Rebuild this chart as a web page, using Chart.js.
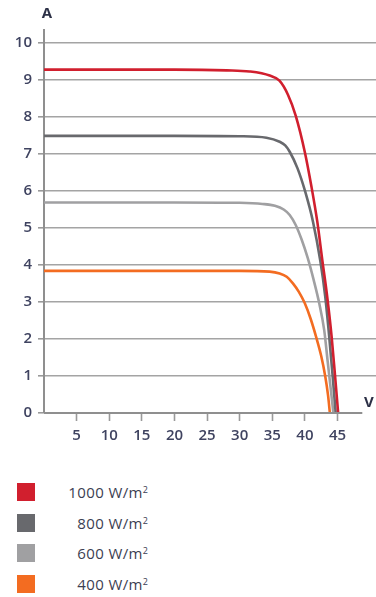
<!DOCTYPE html>
<html>
<head>
<meta charset="utf-8">
<script src="https://cdn.jsdelivr.net/npm/chart.js@4/dist/chart.umd.min.js"></script>
<style>
html,body{margin:0;padding:0;background:#fff;}
#wrap{position:absolute;left:0;top:0;width:376px;height:460px;}
.row{position:absolute;left:0;width:200px;height:20px;}
.sw{position:absolute;left:17px;top:1px;width:18px;height:18px;}
.lbl{position:absolute;right:52px;top:0;line-height:20px;font-family:"Open Sans",sans-serif;font-size:15px;letter-spacing:0.4px;color:#3b3e52;white-space:nowrap;}
.lbl sup{font-size:9px;line-height:0;vertical-align:5px;letter-spacing:0;}
</style>
</head>
<body>
<div id="wrap"><canvas id="c" width="376" height="460"></canvas></div>
<div id="legend"></div>
<script>
// Series labels and colours
const seriesNames = ['1000', '800', '600', '400'];
const seriesColors = ['#d11f2e', '#68696d', '#a0a0a2', '#f36c21'];

// X ticks (V) and Y ticks (A)
const xTicks = [5, 10, 15, 20, 25, 30, 35, 40, 45];
const yTicks = [0, 1, 2, 3, 4, 5, 6, 7, 8, 9, 10];

// 1000 W/m2
const v1000 = [0, 20, 28, 31.5, 34.6, 36.1, 37.4, 38.6, 40.0, 41.0, 41.9, 42.7, 43.45, 44.1, 44.6, 45.1];
const i1000 = [9.28, 9.28, 9.26, 9.23, 9.12, 8.98, 8.6, 8.03, 7.04, 6.12, 5.17, 4.09, 3.1, 2.06, 1.05, 0];
// 800 W/m2
const v800 = [0, 20, 30, 34.1, 36.13, 36.98, 37.67, 38.87, 40.05, 41.24, 42.38, 43.11, 43.73, 44.23, 44.72];
const i800 = [7.49, 7.49, 7.48, 7.44, 7.33, 7.23, 7.06, 6.61, 5.98, 5.17, 4.09, 3.16, 2.06, 1.05, 0];
// 600 W/m2
const v600 = [0, 20, 30, 33.5, 35.4, 36.75, 37.67, 38.59, 39.51, 40.43, 41.35, 42.19, 42.96, 43.5, 43.96, 44.36];
const i600 = [5.69, 5.69, 5.68, 5.65, 5.6, 5.5, 5.35, 5.08, 4.68, 4.19, 3.59, 2.97, 2.24, 1.38, 0.65, 0];
// 400 W/m2
const v400 = [0, 20, 30, 34.6, 36.13, 37.21, 38.13, 39.05, 39.97, 40.89, 41.73, 42.5, 43.11, 43.54, 43.83];
const i400 = [3.84, 3.84, 3.84, 3.82, 3.77, 3.68, 3.51, 3.28, 2.97, 2.54, 2.05, 1.54, 1.0, 0.49, 0];

const allV = [v1000, v800, v600, v400];
const allI = [i1000, i800, i600, i400];

const datasets = seriesNames.map((n, k) => ({
  label: n + ' W/m²',
  data: allV[k].map((v, j) => ({x: v, y: allI[k][j]})),
  borderColor: seriesColors[k],
  backgroundColor: seriesColors[k],
  borderWidth: 2.6,
  pointRadius: 0,
  showLine: true,
  fill: false,
  cubicInterpolationMode: 'monotone'
}));

const tickFont = {family: 'Open Sans', size: 15, weight: '600'};
const tickColor = '#3f4360';

const axisLabels = {
  id: 'axisLabels',
  afterDraw(chart) {
    const {ctx, scales: {x, y}} = chart;
    ctx.save();
    // x axis line (ends before the "V" label)
    ctx.strokeStyle = '#8f8f8f';
    ctx.lineWidth = 2;
    ctx.beginPath();
    const y0 = y.getPixelForValue(0);
    ctx.moveTo(x.left, y0);
    ctx.lineTo(x.getPixelForValue(48.8), y0);
    ctx.stroke();
    ctx.fillStyle = '#2c3046';
    ctx.font = 'bold 15px "Open Sans"';
    ctx.textAlign = 'center';
    ctx.textBaseline = 'middle';
    ctx.fillText('A', x.left + 3, 14);
    ctx.fillText('V', x.getPixelForValue(49.8), y0 - 10);
    ctx.restore();
  }
};

new Chart(document.getElementById('c'), {
  type: 'scatter',
  data: {datasets},
  options: {
    responsive: false,
    animation: false,
    layout: {padding: {top: 30, left: 0, right: 0, bottom: 0}},
    plugins: {legend: {display: false}, tooltip: {enabled: false}},
    scales: {
      x: {
        type: 'linear',
        min: 0,
        max: 50.9,
        afterFit: s => { s.height = 47; },
        afterBuildTicks: s => { s.ticks = xTicks.map(v => ({value: v})); },
        ticks: {font: tickFont, color: tickColor, padding: 6, maxRotation: 0, autoSkip: false},
        grid: {drawOnChartArea: false, drawTicks: true, tickLength: 8, tickColor: '#9a9a9a', tickWidth: 1.6},
        border: {display: false}
      },
      y: {
        type: 'linear',
        min: 0,
        max: 10.35,
        afterFit: s => { s.width = 44; },
        afterBuildTicks: s => { s.ticks = yTicks.map(v => ({value: v})); },
        ticks: {font: tickFont, color: tickColor, padding: 6},
        grid: {
          color: c => (c.tick && c.tick.value === 0) ? 'rgba(0,0,0,0)' : '#a4a4a4',
          lineWidth: 1.6,
          tickLength: 6,
          tickColor: '#9a9a9a',
          tickWidth: 1.6
        },
        border: {display: true, color: '#8f8f8f', width: 2}
      }
    }
  },
  plugins: [axisLabels]
});

// HTML legend
const legendTops = [482, 513, 543, 574];
const legend = document.getElementById('legend');
seriesNames.forEach((n, k) => {
  const row = document.createElement('div');
  row.className = 'row';
  row.style.top = legendTops[k] + 'px';
  row.innerHTML = '<div class="sw" style="background:' + seriesColors[k] + '"></div>' +
    '<div class="lbl">' + n + ' W/m<sup>2</sup></div>';
  legend.appendChild(row);
});
</script>
</body>
</html>
